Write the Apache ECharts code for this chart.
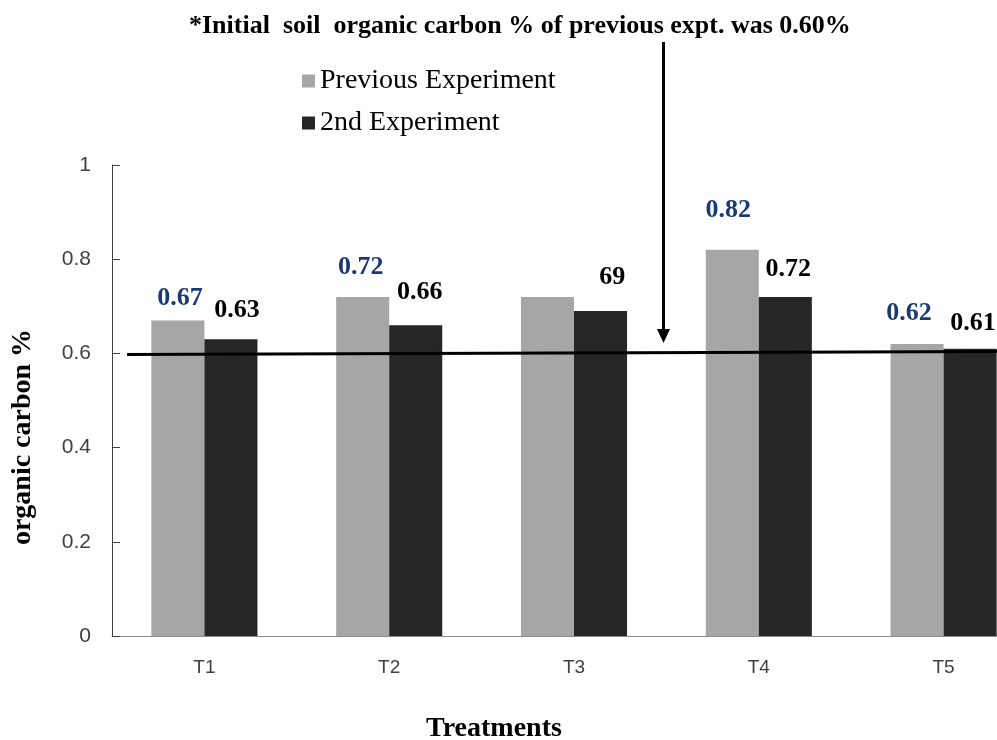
<!DOCTYPE html>
<html>
<head>
<meta charset="utf-8">
<script src="https://cdn.jsdelivr.net/npm/echarts@6/dist/echarts.min.js"></script>
<style>
html,body{margin:0;padding:0;background:#fff;}
#chart{width:997px;height:740px;}
</style>
</head>
<body>
<div id="chart"></div>
<script>
const categories = ['T1', 'T2', 'T3', 'T4', 'T5'];
const seriesNames = ['Previous Experiment', '2nd Experiment'];
const previousValues = [0.67, 0.72, 0.72, 0.82, 0.62];
const secondValues = [0.63, 0.66, 0.69, 0.72, 0.61];
const initialCarbon = 0.60;
const yMin = 0, yMax = 1, yInterval = 0.2;
const titleText = '*Initial  soil  organic carbon % of previous expt. was 0.60%';
const yName = 'organic carbon %';
const xName = 'Treatments';

const serif = 'Liberation Serif';
const sans = 'Liberation Sans';

// label layout tweaks (manually placed labels in the original)
const prevOffsets = [[2, -22], [-2, -30], [0, -30], [-4, -39], [-8, -31]];
const prevShow = [true, true, false, true, true];
const secondOffsets = [[6, -29], [4, -33], [2, -34], [3, -28], [3, -25]];
const secondMasked = [false, false, true, false, false];

const labelBase = {
  show: true, position: 'top', distance: 0, verticalAlign: 'middle',
  fontFamily: serif, fontWeight: 'bold', fontSize: 26
};

const chart = echarts.init(document.getElementById('chart'));
const option = {
  animation: false,
  backgroundColor: '#fff',
  title: {
    text: titleText,
    left: 184, top: 8,
    textStyle: { fontFamily: serif, fontWeight: 'bold', fontSize: 26, color: '#000' }
  },
  legend: {
    orient: 'vertical', left: 302, top: 67, padding: 0,
    itemWidth: 13, itemHeight: 13, itemGap: 14,
    icon: 'rect',
    textStyle: { fontFamily: serif, fontSize: 28, color: '#000', lineHeight: 28 },
    data: seriesNames
  },
  grid: {
    left: 112, width: 924, top: 165, height: 471,
    containLabel: false, outerBoundsMode: 'none'
  },
  xAxis: {
    type: 'category', data: categories,
    axisLine: { lineStyle: { color: '#8c8c8c', width: 1 } },
    axisTick: { show: false },
    axisLabel: { fontFamily: sans, fontSize: 19, color: '#404040', margin: 22 }
  },
  yAxis: {
    type: 'value', min: yMin, max: yMax, interval: yInterval,
    axisLine: { show: true, lineStyle: { color: '#404040', width: 1 } },
    axisTick: { show: true, inside: true, length: 8, lineStyle: { color: '#404040' } },
    splitLine: { show: false },
    axisLabel: { fontFamily: sans, fontSize: 21, color: '#404040', margin: 21 }
  },
  series: [
    {
      name: seriesNames[0], type: 'bar', barWidth: '28.7%', barGap: '0%',
      itemStyle: { color: '#a6a6a6' },
      label: Object.assign({}, labelBase, { color: '#1b3a73' }),
      data: previousValues.map((v, i) => ({
        value: v,
        label: { show: prevShow[i], offset: prevOffsets[i] }
      }))
    },
    {
      name: seriesNames[1], type: 'bar', barWidth: '28.7%', barGap: '0%',
      itemStyle: { color: '#262626' },
      label: Object.assign({}, labelBase, {
        color: '#000',
        formatter: p => {
          const s = Number(p.value).toFixed(2);
          if (secondMasked[p.dataIndex]) return '{h|' + s.slice(0, 2) + '}{v|' + s.slice(2) + '}';
          return s;
        },
        rich: {
          h: { color: '#fff', fontFamily: serif, fontWeight: 'bold', fontSize: 26 },
          v: { color: '#000', fontFamily: serif, fontWeight: 'bold', fontSize: 26 }
        }
      }),
      data: secondValues.map((v, i) => ({
        value: v,
        label: { offset: secondOffsets[i] }
      }))
    }
  ]
};
chart.setOption(option);

const yLine = chart.convertToPixel({ yAxisIndex: 0 }, initialCarbon);
chart.setOption({
  graphic: [
    {
      type: 'line', z: 100,
      shape: { x1: 127, y1: yLine + 1, x2: 997, y2: yLine - 2 },
      style: { stroke: '#000', lineWidth: 3 }
    },
    {
      type: 'line', z: 100,
      shape: { x1: 663.5, y1: 42, x2: 663.5, y2: 332 },
      style: { stroke: '#000', lineWidth: 3 }
    },
    {
      type: 'polygon', z: 100,
      shape: { points: [[657, 329], [670, 329], [663.5, 343]] },
      style: { fill: '#000' }
    },
    {
      type: 'text', z: 100, x: 23, y: 437, rotation: Math.PI / 2,
      style: {
        text: yName, fontFamily: serif, fontWeight: 'bold', fontSize: 28,
        fill: '#000', align: 'center', verticalAlign: 'middle'
      }
    },
    {
      type: 'text', z: 100, x: 494, y: 729,
      style: {
        text: xName, fontFamily: serif, fontWeight: 'bold', fontSize: 28,
        fill: '#000', align: 'center', verticalAlign: 'middle'
      }
    }
  ]
});
</script>
</body>
</html>
